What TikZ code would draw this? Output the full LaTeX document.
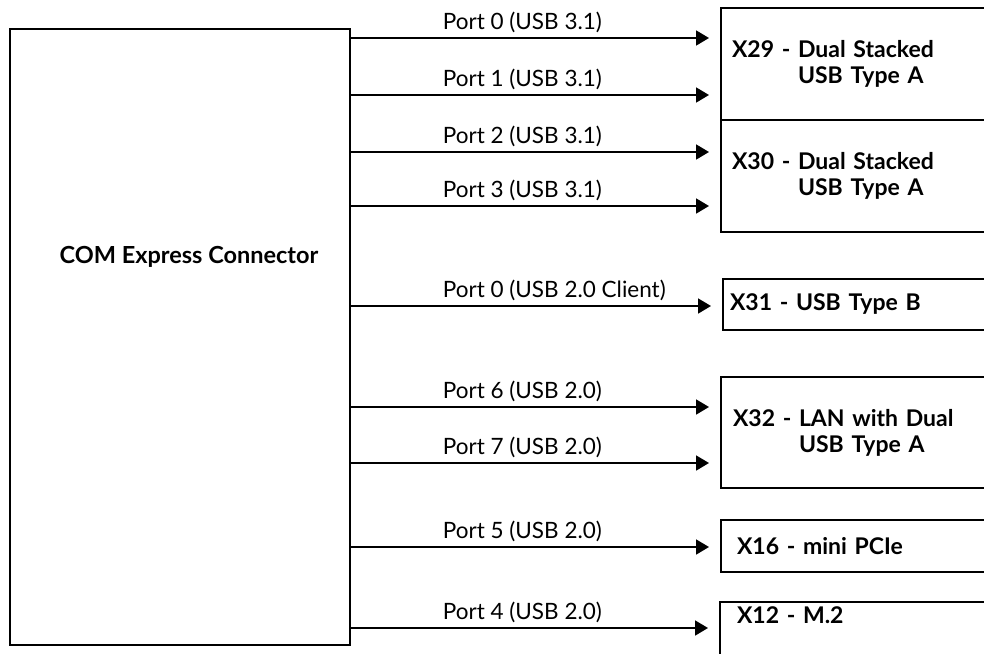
\documentclass[tikz,border=0pt]{standalone}
\usepackage{fontspec}
\setmainfont{Lato}
\usepackage{tikz}
\usetikzlibrary{arrows.meta,positioning}

\begin{document}
\begin{tikzpicture}[x=1pt,y=-1pt]

\tikzset{
  connbox/.style={draw=black, line width=1.8pt, outer sep=0pt, inner sep=0pt},
  conntext/.style={font=\fontsize{23.5}{26}\selectfont\bfseries, align=left},
  portbox/.style={draw=black, line width=1.6pt, outer sep=0pt, anchor=north west,
                  font=\fontsize{23}{26}\selectfont\bfseries, align=left},
  port/.style={black, line width=1.8pt, shorten >=12pt,
                  -{Triangle[length=13pt, width=15pt]}},
  portlabel/.style={pos=0, anchor=base west, xshift=92pt, yshift=9pt,
                  font=\fontsize{22.5}{26}\selectfont, inner sep=0pt}
}

\useasboundingbox (0,0) rectangle (984,653);
\clip (0,0) rectangle (984,653);

% Connector
\node[connbox, anchor=north west, minimum width=340pt, minimum height=616pt] (com) at (10,29) {};
\node[conntext] (comlabel) at (189,257) {COM Express Connector};

% Targets
\node[portbox, minimum width=269pt, minimum height=112pt, text width=247pt, inner xsep=11pt] (x29) at (721,8)
  {X29 - Dual Stacked\\\hspace*{66pt}USB Type A};
\node[portbox, minimum width=269pt, minimum height=112pt, text width=247pt, inner xsep=11pt] (x30) at (721,120)
  {X30 - Dual Stacked\\\hspace*{66pt}USB Type A};
\node[portbox, minimum width=267pt, minimum height=51pt, text width=253pt, inner xsep=7pt] (x31) at (723,279)
  {X31 - USB Type B};
\node[portbox, minimum width=269pt, minimum height=111pt, text width=245pt, inner xsep=12pt] (x32) at (721,377)
  {X32 - LAN with Dual\\\hspace*{66pt}USB Type A};
\node[portbox, minimum width=269pt, minimum height=52pt, text width=237pt, inner xsep=16pt] (x16) at (721,520)
  {X16 - mini PCIe};
\node[portbox, minimum width=270pt, text width=236pt, inner xsep=17pt, inner ysep=5pt,
      text height=16pt, text depth=40pt] (x12) at (720,602)
  {X12 - M.2};

% Ports
\draw[port] (com.east |- 0,38) -- (x29.west |- 0,38) node[portlabel] {Port 0 (USB 3.1)};
\draw[port] (com.east |- 0,95) -- (x29.west |- 0,95) node[portlabel] {Port 1 (USB 3.1)};
\draw[port] (com.east |- 0,152) -- (x30.west |- 0,152) node[portlabel] {Port 2 (USB 3.1)};
\draw[port] (com.east |- 0,206) -- (x30.west |- 0,206) node[portlabel] {Port 3 (USB 3.1)};
\draw[port] (com.east |- 0,306) -- (x31.west |- 0,306) node[portlabel] {Port 0 (USB 2.0 Client)};
\draw[port] (com.east |- 0,407) -- (x32.west |- 0,407) node[portlabel] {Port 6 (USB 2.0)};
\draw[port] (com.east |- 0,463) -- (x32.west |- 0,463) node[portlabel] {Port 7 (USB 2.0)};
\draw[port] (com.east |- 0,547) -- (x16.west |- 0,547) node[portlabel] {Port 5 (USB 2.0)};
\draw[port] (com.east |- 0,628) -- (x12.west |- 0,628) node[portlabel] {Port 4 (USB 2.0)};

\end{tikzpicture}
\end{document}
